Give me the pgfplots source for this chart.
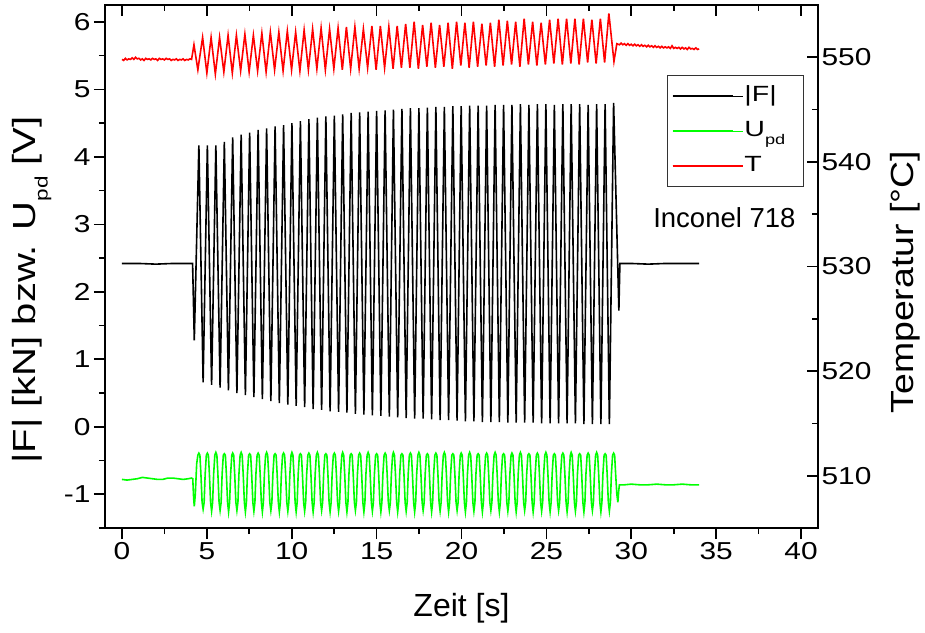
\documentclass[border=0pt]{standalone}
\usepackage{fontspec}
\setmainfont{Liberation Sans}
\usepackage{pgfplots}
\pgfplotsset{compat=1.18}
\definecolor{lgreen}{RGB}{0,255,0}
\definecolor{lred}{RGB}{255,0,0}
\newcommand{\pdl}{\raisebox{-12pt}{\fontsize{18}{18}\selectfont pd}}
\newcommand{\pdg}{\raisebox{-8pt}{\fontsize{14}{14}\selectfont pd}}
\newcommand{\lgt}[1]{\scalebox{1.3}[1]{#1}}
\begin{document}
\begin{tikzpicture}
\path[use as bounding box] (-105pt,-104pt) rectangle (820pt,528pt);
\pgfplotsset{
  common/.style={
    at={(0,0)}, anchor=south west, scale only axis, width=713pt, height=523pt,
    xmin=-1, xmax=41,
    xtick={0,5,...,40}, minor xtick={2.5,7.5,...,37.5},
    major tick length=11pt, minor tick length=6pt,
    every tick/.style={black, line width=1.6pt},
    axis line style={line width=1.9pt},
    tick label style={font=\fontsize{24.5}{29}\selectfont},
    /pgf/number format/assume math mode=true,
    yticklabel={\scalebox{1.22}[1]{\pgfmathprintnumber{\tick}}},
  }
}
\begin{axis}[common,
  ymin=-1.5, ymax=6.25,
  ytick={-1,0,...,6}, minor ytick={-1.5,-0.5,...,5.5},
  xtick pos=left, ytick pos=left, tick align=outside,
  xticklabel={\scalebox{1.22}[1]{\pgfmathprintnumber{\tick}}},
  xlabel={Zeit [s]},
  xlabel style={at={(axis description cs:0.5,0)}, anchor=center, yshift=-80pt, font=\fontsize{32}{38}\selectfont},
  ylabel={\scalebox{1.25}[1]{|F| [kN] bzw. U\pdl{} [V]}},
  ylabel style={at={(axis description cs:-0.1024,0.455)}, anchor=center, font=\fontsize{32}{38}\selectfont},
]
\addplot[black, line width=1.6pt] coordinates {
(0,2.42) (1,2.42) (2,2.41) (3,2.42) (4.16,2.42) (4.26,1.28)
(4.53,4.17) (4.78,0.66) (5.03,4.17) (5.28,0.62) (5.53,4.17) (5.78,0.58)
(6.03,4.22) (6.27,0.54) (6.52,4.29) (6.77,0.50) (7.02,4.33) (7.27,0.47)
(7.52,4.36) (7.77,0.44) (8.02,4.40) (8.27,0.41) (8.52,4.42) (8.77,0.38)
(9.02,4.45) (9.27,0.35) (9.52,4.47) (9.77,0.33) (10.01,4.50) (10.26,0.31)
(10.51,4.53) (10.76,0.29) (11.01,4.56) (11.26,0.26) (11.51,4.58) (11.76,0.25)
(12.01,4.60) (12.26,0.23) (12.51,4.61) (12.76,0.22) (13.00,4.63) (13.25,0.21)
(13.50,4.65) (13.75,0.19) (14.00,4.66) (14.25,0.18) (14.50,4.67) (14.75,0.17)
(15.00,4.68) (15.25,0.16) (15.50,4.69) (15.75,0.15) (15.99,4.70) (16.24,0.14)
(16.49,4.71) (16.74,0.13) (16.99,4.72) (17.24,0.12) (17.49,4.72) (17.74,0.12)
(17.99,4.73) (18.24,0.11) (18.49,4.74) (18.74,0.10) (18.99,4.74) (19.24,0.10)
(19.49,4.75) (19.74,0.09) (19.98,4.75) (20.23,0.08) (20.48,4.76) (20.73,0.08)
(20.98,4.76) (21.23,0.07) (21.48,4.76) (21.73,0.07) (21.98,4.77) (22.23,0.07)
(22.48,4.77) (22.73,0.06) (22.97,4.77) (23.22,0.06) (23.47,4.78) (23.72,0.06)
(23.97,4.77) (24.22,0.06) (24.47,4.78) (24.72,0.05) (24.97,4.78) (25.22,0.05)
(25.47,4.77) (25.72,0.05) (25.97,4.78) (26.22,0.05) (26.46,4.78) (26.71,0.05)
(26.96,4.78) (27.21,0.04) (27.46,4.77) (27.71,0.04) (27.96,4.78) (28.21,0.04)
(28.46,4.78) (28.71,0.04) (28.96,4.80) (29.27,1.72) (29.33,2.42)
(30,2.42) (31,2.41) (32,2.42) (33,2.42) (34,2.42)
};
\addplot[lgreen, line width=1.6pt] coordinates {
(0,-0.78) (0.3,-0.79) (0.6,-0.78) (0.9,-0.77) (1.2,-0.75) (1.5,-0.76) (1.8,-0.77)
(2.1,-0.78) (2.4,-0.78) (2.7,-0.76) (3.0,-0.76) (3.3,-0.77) (3.6,-0.78) (3.9,-0.77)
(4.1,-0.76) (4.17,-0.77) (4.22,-1.05) (4.26,-1.18) (4.32,-1.00) (4.40,-0.55) (4.47,-0.42)
(4.53,-0.39) (4.59,-0.42) (4.65,-0.70) (4.72,-1.12) (4.78,-1.22) (4.84,-1.12) (4.90,-0.70) (4.97,-0.42)
(5.03,-0.39) (5.09,-0.42) (5.15,-0.70) (5.22,-1.12) (5.28,-1.25) (5.34,-1.12) (5.40,-0.70) (5.47,-0.42)
(5.53,-0.38) (5.59,-0.42) (5.65,-0.70) (5.72,-1.12) (5.78,-1.24) (5.84,-1.12) (5.90,-0.70) (5.97,-0.42)
(6.03,-0.40) (6.09,-0.42) (6.15,-0.70) (6.22,-1.12) (6.28,-1.26) (6.34,-1.12) (6.40,-0.70) (6.47,-0.42)
(6.52,-0.39) (6.58,-0.42) (6.64,-0.70) (6.71,-1.12) (6.77,-1.24) (6.83,-1.12) (6.89,-0.70) (6.96,-0.42)
(7.02,-0.38) (7.08,-0.42) (7.14,-0.70) (7.21,-1.12) (7.27,-1.26) (7.33,-1.12) (7.39,-0.70) (7.46,-0.42)
(7.52,-0.40) (7.58,-0.42) (7.64,-0.70) (7.71,-1.12) (7.77,-1.25) (7.83,-1.12) (7.89,-0.70) (7.96,-0.42)
(8.02,-0.39) (8.08,-0.42) (8.14,-0.70) (8.21,-1.12) (8.27,-1.26) (8.33,-1.12) (8.39,-0.70) (8.46,-0.42)
(8.52,-0.38) (8.58,-0.42) (8.64,-0.70) (8.71,-1.12) (8.77,-1.24) (8.83,-1.12) (8.89,-0.70) (8.96,-0.42)
(9.02,-0.40) (9.08,-0.42) (9.14,-0.70) (9.21,-1.12) (9.27,-1.26) (9.33,-1.12) (9.39,-0.70) (9.46,-0.42)
(9.52,-0.39) (9.58,-0.42) (9.64,-0.70) (9.71,-1.12) (9.77,-1.25) (9.83,-1.12) (9.89,-0.70) (9.96,-0.42)
(10.01,-0.38) (10.07,-0.42) (10.13,-0.70) (10.20,-1.12) (10.26,-1.26) (10.32,-1.12) (10.38,-0.70) (10.45,-0.42)
(10.51,-0.40) (10.57,-0.42) (10.63,-0.70) (10.70,-1.12) (10.76,-1.25) (10.82,-1.12) (10.88,-0.70) (10.95,-0.42)
(11.01,-0.39) (11.07,-0.42) (11.13,-0.70) (11.20,-1.12) (11.26,-1.26) (11.32,-1.12) (11.38,-0.70) (11.45,-0.42)
(11.51,-0.38) (11.57,-0.42) (11.63,-0.70) (11.70,-1.12) (11.76,-1.24) (11.82,-1.12) (11.88,-0.70) (11.95,-0.42)
(12.01,-0.40) (12.07,-0.42) (12.13,-0.70) (12.20,-1.12) (12.26,-1.26) (12.32,-1.12) (12.38,-0.70) (12.45,-0.42)
(12.51,-0.39) (12.57,-0.42) (12.63,-0.70) (12.70,-1.12) (12.76,-1.25) (12.82,-1.12) (12.88,-0.70) (12.95,-0.42)
(13.00,-0.38) (13.06,-0.42) (13.12,-0.70) (13.19,-1.12) (13.25,-1.26) (13.31,-1.12) (13.37,-0.70) (13.44,-0.42)
(13.50,-0.40) (13.56,-0.42) (13.62,-0.70) (13.69,-1.12) (13.75,-1.24) (13.81,-1.12) (13.87,-0.70) (13.94,-0.42)
(14.00,-0.39) (14.06,-0.42) (14.12,-0.70) (14.19,-1.12) (14.25,-1.26) (14.31,-1.12) (14.37,-0.70) (14.44,-0.42)
(14.50,-0.38) (14.56,-0.42) (14.62,-0.70) (14.69,-1.12) (14.75,-1.25) (14.81,-1.12) (14.87,-0.70) (14.94,-0.42)
(15.00,-0.40) (15.06,-0.42) (15.12,-0.70) (15.19,-1.12) (15.25,-1.26) (15.31,-1.12) (15.37,-0.70) (15.44,-0.42)
(15.50,-0.39) (15.56,-0.42) (15.62,-0.70) (15.69,-1.12) (15.75,-1.24) (15.81,-1.12) (15.87,-0.70) (15.94,-0.42)
(15.99,-0.38) (16.05,-0.42) (16.11,-0.70) (16.18,-1.12) (16.24,-1.26) (16.30,-1.12) (16.36,-0.70) (16.43,-0.42)
(16.49,-0.40) (16.55,-0.42) (16.61,-0.70) (16.68,-1.12) (16.74,-1.25) (16.80,-1.12) (16.86,-0.70) (16.93,-0.42)
(16.99,-0.39) (17.05,-0.42) (17.11,-0.70) (17.18,-1.12) (17.24,-1.26) (17.30,-1.12) (17.36,-0.70) (17.43,-0.42)
(17.49,-0.38) (17.55,-0.42) (17.61,-0.70) (17.68,-1.12) (17.74,-1.24) (17.80,-1.12) (17.86,-0.70) (17.93,-0.42)
(17.99,-0.40) (18.05,-0.42) (18.11,-0.70) (18.18,-1.12) (18.24,-1.26) (18.30,-1.12) (18.36,-0.70) (18.43,-0.42)
(18.49,-0.39) (18.55,-0.42) (18.61,-0.70) (18.68,-1.12) (18.74,-1.25) (18.80,-1.12) (18.86,-0.70) (18.93,-0.42)
(18.99,-0.38) (19.05,-0.42) (19.11,-0.70) (19.18,-1.12) (19.24,-1.26) (19.30,-1.12) (19.36,-0.70) (19.43,-0.42)
(19.49,-0.40) (19.55,-0.42) (19.61,-0.70) (19.68,-1.12) (19.74,-1.24) (19.80,-1.12) (19.86,-0.70) (19.93,-0.42)
(19.98,-0.39) (20.04,-0.42) (20.10,-0.70) (20.17,-1.12) (20.23,-1.26) (20.29,-1.12) (20.35,-0.70) (20.42,-0.42)
(20.48,-0.38) (20.54,-0.42) (20.60,-0.70) (20.67,-1.12) (20.73,-1.25) (20.79,-1.12) (20.85,-0.70) (20.92,-0.42)
(20.98,-0.40) (21.04,-0.42) (21.10,-0.70) (21.17,-1.12) (21.23,-1.26) (21.29,-1.12) (21.35,-0.70) (21.42,-0.42)
(21.48,-0.39) (21.54,-0.42) (21.60,-0.70) (21.67,-1.12) (21.73,-1.24) (21.79,-1.12) (21.85,-0.70) (21.92,-0.42)
(21.98,-0.38) (22.04,-0.42) (22.10,-0.70) (22.17,-1.12) (22.23,-1.26) (22.29,-1.12) (22.35,-0.70) (22.42,-0.42)
(22.48,-0.40) (22.54,-0.42) (22.60,-0.70) (22.67,-1.12) (22.73,-1.25) (22.79,-1.12) (22.85,-0.70) (22.92,-0.42)
(22.97,-0.39) (23.03,-0.42) (23.09,-0.70) (23.16,-1.12) (23.22,-1.26) (23.28,-1.12) (23.34,-0.70) (23.41,-0.42)
(23.47,-0.38) (23.53,-0.42) (23.59,-0.70) (23.66,-1.12) (23.72,-1.24) (23.78,-1.12) (23.84,-0.70) (23.91,-0.42)
(23.97,-0.40) (24.03,-0.42) (24.09,-0.70) (24.16,-1.12) (24.22,-1.26) (24.28,-1.12) (24.34,-0.70) (24.41,-0.42)
(24.47,-0.39) (24.53,-0.42) (24.59,-0.70) (24.66,-1.12) (24.72,-1.25) (24.78,-1.12) (24.84,-0.70) (24.91,-0.42)
(24.97,-0.38) (25.03,-0.42) (25.09,-0.70) (25.16,-1.12) (25.22,-1.26) (25.28,-1.12) (25.34,-0.70) (25.41,-0.42)
(25.47,-0.40) (25.53,-0.42) (25.59,-0.70) (25.66,-1.12) (25.72,-1.24) (25.78,-1.12) (25.84,-0.70) (25.91,-0.42)
(25.97,-0.39) (26.03,-0.42) (26.09,-0.70) (26.16,-1.12) (26.22,-1.26) (26.28,-1.12) (26.34,-0.70) (26.41,-0.42)
(26.46,-0.38) (26.52,-0.42) (26.58,-0.70) (26.65,-1.12) (26.71,-1.25) (26.77,-1.12) (26.83,-0.70) (26.90,-0.42)
(26.96,-0.40) (27.02,-0.42) (27.08,-0.70) (27.15,-1.12) (27.21,-1.26) (27.27,-1.12) (27.33,-0.70) (27.40,-0.42)
(27.46,-0.39) (27.52,-0.42) (27.58,-0.70) (27.65,-1.12) (27.71,-1.24) (27.77,-1.12) (27.83,-0.70) (27.90,-0.42)
(27.96,-0.38) (28.02,-0.42) (28.08,-0.70) (28.15,-1.12) (28.21,-1.26) (28.27,-1.12) (28.33,-0.70) (28.40,-0.42)
(28.46,-0.40) (28.52,-0.42) (28.58,-0.70) (28.65,-1.12) (28.71,-1.25) (28.77,-1.12) (28.83,-0.70) (28.90,-0.42)
(28.96,-0.39) (29.02,-0.42) (29.08,-0.70) (29.15,-1.00) (29.21,-1.12) (29.26,-0.95) (29.30,-0.86)
(29.6,-0.86) (30,-0.85) (30.5,-0.86) (31,-0.86) (31.5,-0.85) (32,-0.86)
(32.5,-0.86) (33,-0.85) (33.5,-0.86) (34,-0.86)
};
\end{axis}
\begin{axis}[common,
  ymin=505, ymax=555,
  ytick={510,520,...,550}, minor ytick={515,525,...,545},
  xtick pos=right, ytick pos=right, tick align=inside,
  xticklabels={},
  ylabel={\scalebox{1.17}[1]{Temperatur [°C]}},
  ylabel style={at={(axis description cs:1.122,0.47)}, anchor=center, font=\fontsize{32}{38}\selectfont},
  legend style={at={(0.980,0.866)}, anchor=north east, draw=black!80, line width=0.8pt,
    font=\fontsize{22}{26}\selectfont, inner xsep=4pt, inner ysep=3pt,
    nodes={inner sep=1pt, text height=22pt, text depth=11pt}},
  legend cell align=left,
  legend image code/.code={\draw[#1, line width=1.7pt] (0pt,0pt) -- (60pt,0pt); \path (0pt,0pt) -- (70pt,0pt);},
]
\addlegendimage{black}
\addlegendentry{\lgt{|F|}}
\addlegendimage{lgreen}
\addlegendentry{\makebox[54pt][l]{\lgt{U\pdg}}}
\addplot[lred, line width=1.6pt] coordinates {
(0,549.8) (0.1,549.7) (0.2,549.9) (0.3,549.75) (0.4,549.85) (0.5,549.8) (0.6,549.95)
(0.7,549.8) (0.8,550.0) (0.9,549.85) (1.0,549.9) (1.1,549.75) (1.2,549.85) (1.3,549.7)
(1.4,549.9) (1.5,549.8) (1.6,549.85) (1.7,549.75) (1.8,549.9) (1.9,549.8) (2.0,549.85)
(2.1,549.7) (2.2,549.9) (2.3,549.8) (2.4,549.85) (2.5,549.75) (2.6,549.9) (2.7,549.8)
(2.8,549.85) (2.9,549.7) (3.0,549.8) (3.1,549.75) (3.2,549.85) (3.3,549.7) (3.4,549.8)
(3.5,549.75) (3.6,549.85) (3.7,549.7) (3.8,549.8) (3.9,549.75) (4.0,549.85) (4.1,549.8)
(4.24,551.2) (4.47,548.8)
(4.75,551.9) (5.00,548.5) (5.25,551.9) (5.50,548.4) (5.75,551.9) (6.00,548.6)
(6.25,552.1) (6.50,548.5) (6.74,552.1) (6.99,548.7) (7.24,552.2) (7.49,548.6)
(7.74,552.1) (7.99,548.7) (8.24,552.3) (8.49,548.6) (8.74,552.4) (8.99,548.8)
(9.24,552.4) (9.49,548.7) (9.74,552.5) (9.99,548.8) (10.23,552.4) (10.48,548.7)
(10.73,552.6) (10.98,548.8) (11.23,552.7) (11.48,548.9) (11.73,552.8) (11.98,548.8)
(12.23,552.7) (12.48,548.9) (12.73,552.8) (12.98,548.8) (13.22,552.9) (13.47,548.9)
(13.72,552.9) (13.97,548.9) (14.22,552.7) (14.47,549.0) (14.72,553.0) (14.97,548.8)
(15.22,553.0) (15.47,549.0) (15.72,552.9) (15.97,548.9) (16.21,553.0) (16.46,549.0)
(16.71,553.2) (16.96,549.0) (17.21,553.4) (17.46,548.9) (17.71,553.1) (17.96,549.1)
(18.21,553.3) (18.46,549.0) (18.71,553.1) (18.96,549.1) (19.21,553.3) (19.46,548.9)
(19.71,553.4) (19.96,549.2) (20.20,553.3) (20.45,549.0) (20.70,553.4) (20.95,549.1)
(21.20,553.2) (21.45,549.2) (21.70,553.3) (21.95,549.1) (22.20,553.6) (22.45,549.2)
(22.70,553.5) (22.95,549.3) (23.19,553.4) (23.44,549.1) (23.69,553.7) (23.94,549.3)
(24.19,553.4) (24.44,549.2) (24.69,553.3) (24.94,549.3) (25.19,553.6) (25.44,549.4)
(25.69,553.7) (25.94,549.3) (26.19,553.7) (26.44,549.4) (26.68,553.7) (26.93,549.3)
(27.18,553.7) (27.43,549.5) (27.68,553.6) (27.93,549.4) (28.18,553.7) (28.43,549.5)
(28.68,554.2) (28.98,549.6) (29.15,551.3)
(29.3,551.2) (29.4,551.35) (29.5,551.2) (29.6,551.3) (29.7,551.15) (29.8,551.3)
(29.9,551.15) (30.0,551.25) (30.1,551.1) (30.2,551.25) (30.3,551.1) (30.4,551.2)
(30.5,551.05) (30.6,551.2) (30.7,551.05) (30.8,551.15) (30.9,551.0) (31.0,551.15)
(31.1,551.0) (31.2,551.1) (31.3,550.95) (31.4,551.1) (31.5,550.95) (31.6,551.05)
(31.7,550.9) (31.8,551.05) (31.9,550.9) (32.0,551.0) (32.1,550.9) (32.2,551.0)
(32.3,550.85) (32.4,551.1) (32.5,550.85) (32.6,550.95) (32.7,550.85) (32.8,550.95)
(32.9,550.8) (33.0,550.95) (33.1,550.8) (33.2,550.9) (33.3,550.75) (33.4,550.95)
(33.5,550.8) (33.6,550.85) (33.7,550.75) (33.8,550.9) (33.9,550.75) (34.0,550.8)
};
\addlegendentry{\lgt{T}}
\node[anchor=base west, font=\fontsize{27.5}{33}\selectfont] at (rel axis cs:0.764,0.574) {Inconel 718};
\end{axis}
\end{tikzpicture}
\end{document}
